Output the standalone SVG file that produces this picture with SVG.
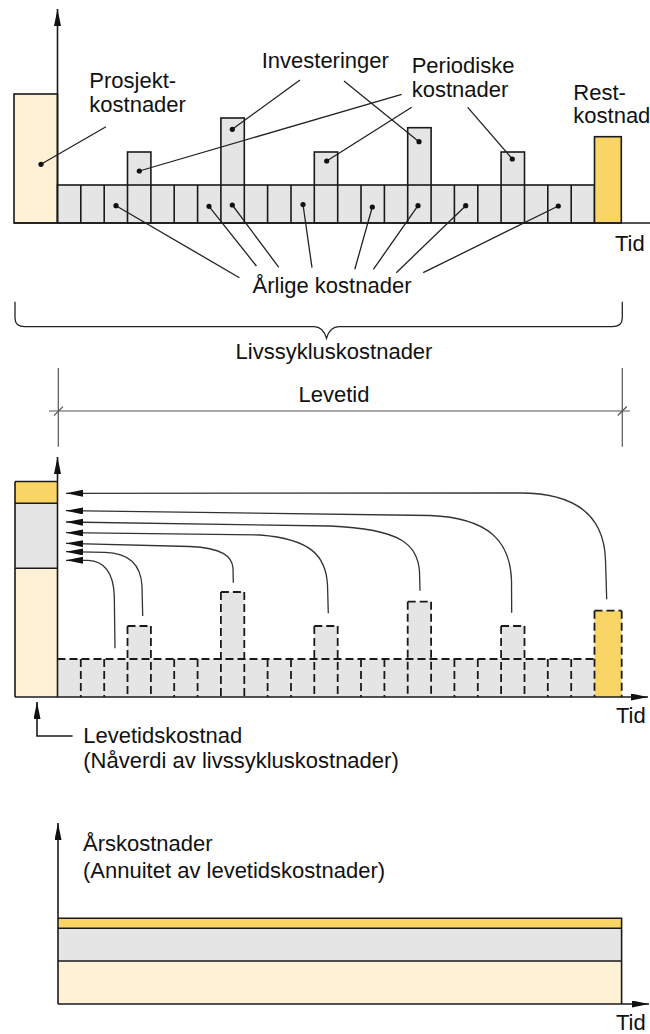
<svg xmlns="http://www.w3.org/2000/svg" width="650" height="1034" viewBox="0 0 650 1034">
<style>
.t{font-family:"Liberation Sans",Arial,sans-serif;font-size:22px;fill:#111}
.m{text-anchor:middle}
.s{stroke:#1a1a1a;stroke-width:1.6;fill:none}
.d{stroke:#1a1a1a;stroke-width:1.8;fill:none;stroke-dasharray:8 4}
.ld{stroke:#222;stroke-width:1.3;fill:none}
.dim{stroke:#555;stroke-width:1.2;fill:none}
.cream{fill:#FEF1D5}
.gray{fill:#E5E5E5}
.yel{fill:#F9D566}
.dot{fill:#111}
.arr{stroke:#333;stroke-width:1.3;fill:none;marker-end:url(#ah)}
</style>
<defs>
<marker id="ah" markerUnits="userSpaceOnUse" markerWidth="18" markerHeight="8" refX="17" refY="3.5" orient="auto"><path d="M0,0 L17,3.5 L0,7 Z" fill="#111"/></marker>
<marker id="ax" markerUnits="userSpaceOnUse" markerWidth="18" markerHeight="8" refX="17" refY="3.5" orient="auto"><path d="M0,0 L17,3.5 L0,7 Z" fill="#111"/></marker>
</defs>

<!-- TOP CHART -->
<g id="top-chart">
  <rect id="prosjekt" class="cream s" x="14" y="94" width="43.5" height="129"/>
  <g id="top-bars">
    <rect class="gray s" x="127.5" y="152" width="23.4" height="71"/>
    <rect class="gray s" x="220.9" y="118" width="23.4" height="105"/>
    <rect class="gray s" x="314.3" y="152" width="23.4" height="71"/>
    <rect class="gray s" x="407.7" y="127.7" width="23.4" height="95.3"/>
    <rect class="gray s" x="501.1" y="152" width="23.4" height="71"/>
  </g>
  <rect class="gray s" x="57.5" y="185" width="537" height="38"/>
  <path class="s" d="M80.8,185V223M104.2,185V223M127.5,185V223M150.9,185V223M174.2,185V223M197.6,185V223M220.9,185V223M244.3,185V223M267.6,185V223M291,185V223M314.3,185V223M337.7,185V223M361,185V223M384.4,185V223M407.7,185V223M431.1,185V223M454.4,185V223M477.8,185V223M501.1,185V223M524.5,185V223M547.8,185V223M571.2,185V223"/>
  <rect id="rest" class="yel s" x="594.5" y="136.7" width="26.8" height="86.3"/>
  <path class="s" d="M14,223H650"/>
  <path class="s" d="M57.5,223V9" marker-end="url(#ax)"/>
  <text class="t" x="615" y="251">Tid</text>
</g>

<!-- TOP LABELS -->
<g id="labels-top">
  <text class="t" x="89.3" y="88.3">Prosjekt-</text>
  <text class="t" x="89.3" y="111.7">kostnader</text>
  <text class="t" x="261.7" y="68.3">Investeringer</text>
  <text class="t" x="411.7" y="72.7">Periodiske</text>
  <text class="t" x="411.7" y="97.3">kostnader</text>
  <text class="t" x="573.3" y="100">Rest-</text>
  <text class="t" x="573.3" y="123.3">kostnad</text>
  <text class="t m" x="332" y="293.3">Årlige kostnader</text>
  <text class="t m" x="334" y="359.3">Livssykluskostnader</text>
  <text class="t m" x="334" y="401.7">Levetid</text>
</g>

<!-- LEADER LINES -->
<g id="connectors">
  <g id="leaders-top">
    <path class="ld" d="M41,164.3L106,126.7"/>
    <path class="ld" d="M232.3,129.3L300,80"/>
    <path class="ld" d="M419,141.7L344,81"/>
    <path class="ld" d="M139.3,171L401.7,94.3"/>
    <path class="ld" d="M326.7,161L411.7,107.3"/>
    <path class="ld" d="M512.3,159L467.7,107.3"/>
    <path class="ld" d="M116,205.7L239.4,277.7"/>
    <path class="ld" d="M209,206.3L256.4,266"/>
    <path class="ld" d="M232.3,205L278.8,267.3"/>
    <path class="ld" d="M303,204.5L312,267.7"/>
    <path class="ld" d="M372.3,207L354.8,269.3"/>
    <path class="ld" d="M418,205.7L373.4,269.3"/>
    <path class="ld" d="M465.7,205.7L396.3,272.7"/>
    <path class="ld" d="M558.3,206L423.2,272.7"/>
  </g>
  <g id="dots">
    <circle class="dot" cx="41" cy="164.3" r="2.6"/>
    <circle class="dot" cx="232.3" cy="129.3" r="2.6"/>
    <circle class="dot" cx="419" cy="141.7" r="2.6"/>
    <circle class="dot" cx="139.3" cy="171" r="2.6"/>
    <circle class="dot" cx="326.7" cy="161" r="2.6"/>
    <circle class="dot" cx="512.3" cy="159" r="2.6"/>
    <circle class="dot" cx="116" cy="205.7" r="2.6"/>
    <circle class="dot" cx="209" cy="206.3" r="2.6"/>
    <circle class="dot" cx="232.3" cy="205" r="2.6"/>
    <circle class="dot" cx="303" cy="204.5" r="2.6"/>
    <circle class="dot" cx="372.3" cy="207" r="2.6"/>
    <circle class="dot" cx="418" cy="205.7" r="2.6"/>
    <circle class="dot" cx="465.7" cy="205.7" r="2.6"/>
    <circle class="dot" cx="558.3" cy="206" r="2.6"/>
  </g>
  <g id="brace">
    <path class="ld" d="M15,301.7V318Q15,326.7 25,326.7H314Q323,326.7 326.5,338.3Q330,326.7 339,326.7H612Q622.3,326.7 622.3,318V301.7"/>
  </g>
  <g id="dimension">
    <path class="dim" d="M58.3,368V446.7M622.3,368V446.7M49,411H630"/>
    <path class="dim" d="M54,415.7L63,406.7M617.8,415.5L626.8,406.5"/>
  </g>
  <g id="discount-arrows">
    <path class="arr" d="M606.7,599.3L605.5,560C604,512 572,493 520,493L66,493.3"/>
    <path class="arr" d="M511.7,612.7L511.5,580C510,542 490,518 430,515.5L66,510.7"/>
    <path class="arr" d="M420,590.7L419.5,572C418,545 402,529 330,526L66,522"/>
    <path class="arr" d="M328.3,613.3L327.5,585C326,556 311,539 260,535L66,532.7"/>
    <path class="arr" d="M233.3,582.7L233,568C232,556 222,548 190,546.5L66,543.3"/>
    <path class="arr" d="M142.7,616L142,586C141,566 131,553 105,552.3L66,551.7"/>
    <path class="arr" d="M115,648.3L114.3,596C113.5,574 106,561 88,560.3L66,560.3"/>
  </g>
  <path id="lk-arrow" class="s" d="M72.6,736H37V702" marker-end="url(#ax)"/>
</g>

<!-- MIDDLE CHART -->
<g id="middle-chart">
  <rect class="cream" x="15" y="568.3" width="42.5" height="128.7"/>
  <rect class="gray" x="15" y="503.3" width="42.5" height="65"/>
  <rect class="yel" x="15" y="481.5" width="42.5" height="21.8"/>
  <path class="s" d="M15,481.5H57.5M15,503.3H57.5M15,568.3H57.5M15,481.5V697"/>
  <rect class="gray" x="57.5" y="659" width="537" height="38"/>
  <rect class="gray" x="127.5" y="626" width="23.4" height="33"/>
  <rect class="gray" x="220.9" y="592" width="23.4" height="67"/>
  <rect class="gray" x="314.3" y="626" width="23.4" height="33"/>
  <rect class="gray" x="407.7" y="601.7" width="23.4" height="57.3"/>
  <rect class="gray" x="501.1" y="626" width="23.4" height="33"/>
  <rect class="yel" x="594.5" y="610.7" width="27.2" height="86.3"/>
  <path class="d" d="M57.5,659H594.5"/>
  <path class="d" d="M80.8,659V697M104.2,659V697M127.5,626V697M150.9,626V697M174.2,659V697M197.6,659V697M220.9,592V697M244.3,592V697M267.6,659V697M291,659V697M314.3,626V697M337.7,626V697M361,659V697M384.4,659V697M407.7,601.7V697M431.1,601.7V697M454.4,659V697M477.8,659V697M501.1,626V697M524.5,626V697M547.8,659V697M571.2,659V697M594.5,610.7V697M621.7,610.7V697"/>
  <path class="d" d="M127.5,626H150.9M220.9,592H244.3M314.3,626H337.7M407.7,601.7H431.1M501.1,626H524.5M594.5,610.7H621.7"/>
  <path class="s" d="M15,697H648" marker-end="url(#ax)"/>
  <path class="s" d="M57.5,697V457" marker-end="url(#ax)"/>
  <text class="t" x="616" y="723.3">Tid</text>
  <text class="t" x="83.3" y="743.3">Levetidskostnad</text>
  <text class="t" x="83.3" y="767.7">(Nåverdi av livssykluskostnader)</text>
</g>

<!-- BOTTOM CHART -->
<g id="bottom-chart">
  <rect class="cream" x="58" y="961" width="563.6" height="43"/>
  <rect class="gray" x="58" y="928.3" width="563.6" height="32.7"/>
  <rect class="yel" x="58" y="918.3" width="563.6" height="10"/>
  <path class="s" d="M58,918.3H621.6V1004M58,928.3H621.6M58,961H621.6"/>
  <path class="s" d="M58,1004H649" marker-end="url(#ax)"/>
  <path class="s" d="M58,1004V823" marker-end="url(#ax)"/>
  <text class="t" x="83" y="850.7">Årskostnader</text>
  <text class="t" x="83" y="878.3">(Annuitet av levetidskostnader)</text>
  <text class="t" x="616" y="1030">Tid</text>
</g>
</svg>
